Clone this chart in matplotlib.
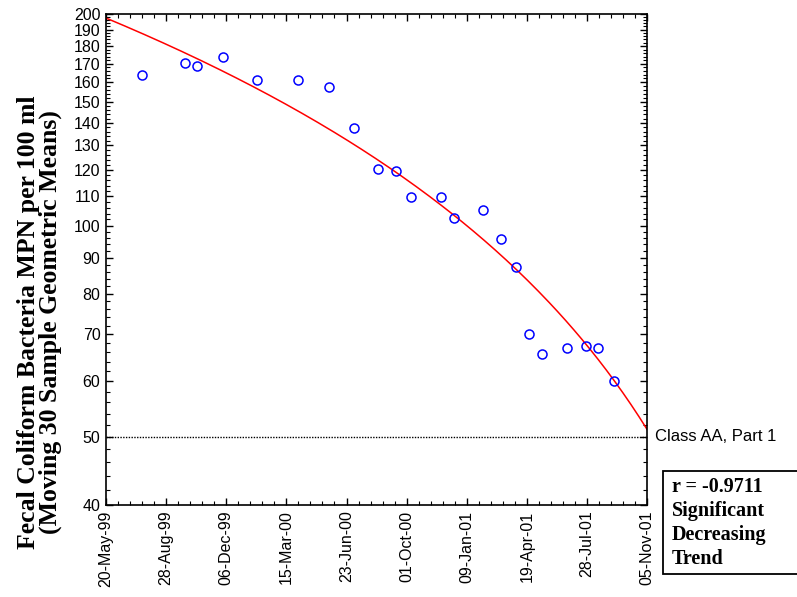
import numpy as np
import pandas as pd
import matplotlib
matplotlib.use("Agg")
import matplotlib.pyplot as plt
import matplotlib.dates as mdates
from matplotlib.ticker import FixedLocator, NullFormatter
from matplotlib.patches import Rectangle

# moving 30-sample geometric means
dates = ["1999-07-19", "1999-09-28", "1999-10-18", "1999-12-01", "2000-01-26",
         "2000-04-04", "2000-05-25", "2000-07-06", "2000-08-14", "2000-09-13",
         "2000-10-08", "2000-11-27", "2000-12-19", "2001-02-05", "2001-03-07",
         "2001-04-01", "2001-04-23", "2001-05-14", "2001-06-25", "2001-07-27",
         "2001-08-15", "2001-09-11"]
values = [163.8, 170.3, 168.7, 174.0, 161.1, 161.1, 157.4, 137.6, 120.3, 119.5,
          109.8, 109.8, 102.5, 105.2, 95.7, 87.3, 70.1, 65.6, 66.9, 67.4,
          66.9, 60.1]

start = pd.Timestamp("1999-05-20")
end = pd.Timestamp("2001-11-05")
standard = 50
r_text = "r = -0.9711\nSignificant\nDecreasing\nTrend"
ylab = "Fecal Coliform Bacteria MPN per 100 ml\n(Moving 30 Sample Geometric Means)"

d = pd.to_datetime(dates)
days = np.array((d - start).days, dtype=float)

# linear regression of value vs time
slope, icept = np.polyfit(days, values, 1)
fit_days = np.linspace(0, (end - start).days, 200)
fit_dates = start + pd.to_timedelta(fit_days, unit="D")
fit_vals = icept + slope * fit_days

fig = plt.figure(figsize=(7.97, 5.97), dpi=100)
ax = fig.add_axes([0.133, 0.154, 0.679, 0.8225])

ax.plot(fit_dates, fit_vals, color="red", lw=1.1, zorder=2)
ax.plot(d, values, "o", mfc="none", mec="blue", ms=6.5, mew=1.1, zorder=3)
ax.axhline(standard, color="black", ls=(0, (1, 1)), lw=1.0, zorder=1)

ax.set_yscale("log")
ax.set_ylim(40, 200)
ax.set_xlim(start, end)

yt = list(range(40, 201, 10))
ax.yaxis.set_major_locator(FixedLocator(yt))
ax.yaxis.set_minor_locator(FixedLocator([v for v in range(40, 201, 2) if v % 10]))
ax.set_yticklabels([str(v) for v in yt])
ax.yaxis.set_minor_formatter(NullFormatter())

xt = pd.date_range(start, end, freq="100D")
ax.set_xticks(xt)
ax.set_xticks(pd.date_range(start, end, freq="20D"), minor=True)
ax.xaxis.set_major_formatter(mdates.DateFormatter("%d-%b-%y"))
plt.setp(ax.get_xticklabels(), rotation=90)

ax.tick_params(which="both", direction="in", top=True, right=True, labelsize=11.5)
ax.tick_params(which="major", length=5, width=1, pad=4)
ax.tick_params(which="minor", length=3, width=0.8)
for lab in ax.get_xticklabels() + ax.get_yticklabels():
    lab.set_fontfamily("Liberation Sans")
for s in ax.spines.values():
    s.set_linewidth(1.2)

ax.set_ylabel(ylab, fontfamily="Liberation Serif", fontweight="bold",
              fontsize=18.5, linespacing=0.9)
ax.yaxis.set_label_coords(-0.082, 0.372)

ax.text(1.015, standard, "Class AA, Part 1", transform=ax.get_yaxis_transform(),
        va="center", ha="left", fontsize=12, fontfamily="Liberation Sans")

# r value box, runs off the right edge like the original
fig.patches.append(Rectangle((0.832, 0.0385), 0.25, 0.1725, transform=fig.transFigure,
                             fc="white", ec="black", lw=1.3))
fig.text(0.843, 1 - 477 / 597, r_text, ha="left", va="top", fontsize=14.5,
         fontweight="bold", fontfamily="Liberation Serif", linespacing=1.26)

fig.savefig("out.png", dpi=100)
